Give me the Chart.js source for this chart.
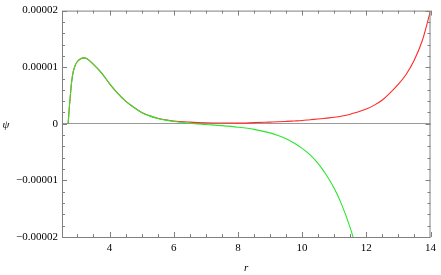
<!DOCTYPE html>
<html>
<head>
<meta charset="utf-8">
<script src="https://cdn.jsdelivr.net/npm/chart.js@4.4.0/dist/chart.umd.min.js"></script>
<style>
  html, body { margin: 0; padding: 0; background: #fff; }
  #wrap { width: 441px; height: 275px; position: relative; }
</style>
</head>
<body>
<div id="wrap"><canvas id="psiChart"></canvas></div>
<script>
// r grid and the two solutions (values in units of 1e-6)
const rValues = [2.71, 2.73, 2.75, 2.78, 2.82, 2.87, 2.93, 3.0, 3.1, 3.2, 3.3, 3.5, 3.75, 4.0, 4.25, 4.5, 4.75, 5.0, 5.25, 5.5, 5.75, 6.0, 6.5, 7.0, 7.5, 8.0, 8.5, 9.0, 9.25, 9.5, 9.75, 10.0, 10.25, 10.5, 10.75, 11.0, 11.25, 11.5, 11.65, 12.0, 12.25, 12.5, 12.75, 13.0, 13.25, 13.5, 13.75, 14.0];
const greenPsi = [0, 1.5, 3.0, 5.0, 7.4, 9.2, 10.3, 11.0, 11.5, 11.65, 11.5, 10.5, 9.0, 7.1, 5.4, 4.0, 2.95, 2.0, 1.4, 0.95, 0.65, 0.4, 0.1, -0.12, -0.33, -0.6, -0.98, -1.6, -2.05, -2.65, -3.4, -4.35, -5.5, -7.05, -9.0, -11.4, -14.5, -18.4, -21.2, null, null, null, null, null, null, null, null, null];
const redPsi = [0, 1.5, 3.0, 5.0, 7.4, 9.2, 10.3, 11.0, 11.5, 11.65, 11.5, 10.5, 9.0, 7.1, 5.4, 4.0, 2.95, 2.0, 1.4, 0.97, 0.7, 0.5, 0.3, 0.18, 0.13, 0.12, 0.2, 0.3, 0.35, 0.42, 0.5, 0.58, 0.72, 0.85, 1.0, 1.15, 1.38, 1.7, 1.95, 2.6, 3.3, 4.2, 5.5, 7.0, 8.8, 11.3, 14.8, 20.0];

const xTickValues = [4, 6, 8, 10, 12, 14];
const yTickValues = [-0.00002, -0.00001, 0, 0.00001, 0.00002];
const yTickLabels = ['\u22120.00002', '\u22120.00001', '0', '0.00001', '0.00002'];

const FONT = "'Liberation Serif', 'DejaVu Serif', serif";

function toPoints(ys) {
    return rValues.map((r, i) => ({ x: r, y: ys[i] === null ? null : ys[i] * 1e-6 }));
}

const framePlugin = {
    id: 'frame',
    afterDatasetsDraw(chart) {
        const { ctx, chartArea: a, scales } = chart;
        const xs = scales.x, ys = scales.y;
        ctx.save();
        ctx.strokeStyle = '#808080';
        ctx.lineWidth = 1;
        ctx.strokeRect(a.left + 0.5, a.top + 0.5, a.right - a.left - 1, a.bottom - a.top);

        ctx.beginPath();
        // x ticks, bottom and top
        for (let v = 3; v <= 14.001; v += 0.5) {
            const major = xTickValues.some(t => Math.abs(t - v) < 1e-6);
            const len = major ? 5 : 3;
            const px = Math.round(xs.getPixelForValue(v)) + 0.5;
            ctx.moveTo(px, a.bottom); ctx.lineTo(px, a.bottom - len);
            ctx.moveTo(px, a.top); ctx.lineTo(px, a.top + len);
        }
        // y ticks, left and right
        for (let k = -10; k <= 10; k++) {
            const v = k * 2e-6;
            const major = k % 5 === 0;
            const len = major ? 5 : 3;
            const py = Math.round(ys.getPixelForValue(v)) + 0.5;
            ctx.moveTo(a.left, py); ctx.lineTo(a.left + len, py);
            ctx.moveTo(a.right, py); ctx.lineTo(a.right - len, py);
        }
        ctx.stroke();

        // axis labels
        ctx.fillStyle = '#000';
        ctx.font = 'italic 11px ' + FONT;
        ctx.textAlign = 'center';
        ctx.textBaseline = 'middle';
        ctx.fillText('r', (a.left + a.right) / 2, 268);
        ctx.fillText('\u03c8', 6, ys.getPixelForValue(0) + 1);
        ctx.restore();
    }
};

new Chart(document.getElementById('psiChart'), {
    type: 'line',
    data: {
        datasets: [{
            label: 'green',
            data: toPoints(greenPsi),
            borderColor: '#2ee62e',
            borderWidth: 1.1,
            pointRadius: 0,
            cubicInterpolationMode: 'monotone',
            spanGaps: false,
            fill: false
        }, {
            label: 'red',
            data: toPoints(redPsi),
            borderColor: '#ff2a2a',
            borderWidth: 1.1,
            pointRadius: 0,
            cubicInterpolationMode: 'monotone',
            fill: false
        }]
    },
    options: {
        responsive: true,
        maintainAspectRatio: false,
        animation: false,
        layout: { padding: { left: 0, right: 7, top: 8, bottom: 0 } },
        plugins: { legend: { display: false }, tooltip: { enabled: false } },
        scales: {
            x: {
                type: 'linear',
                min: 2.52,
                max: 14,
                afterBuildTicks: s => { s.ticks = xTickValues.map(v => ({ value: v })); },
                afterFit: s => { s.height = 38; },
                grid: { display: false, drawTicks: false },
                border: { display: false },
                ticks: { color: '#000', padding: 5, font: { family: FONT, size: 11 }, callback: v => String(v) }
            },
            y: {
                min: -0.00002,
                max: 0.00002,
                afterBuildTicks: s => { s.ticks = yTickValues.map(v => ({ value: v })); },
                afterFit: s => { s.width = 62; },
                grid: {
                    drawTicks: false,
                    color: ctx => (ctx.tick && ctx.tick.value === 0 ? '#999999' : 'rgba(0,0,0,0)'),
                    lineWidth: 1
                },
                border: { display: false },
                ticks: {
                    color: '#000',
                    padding: 4,
                    font: { family: FONT, size: 11 },
                    callback: (v) => yTickLabels[yTickValues.indexOf(v)] ?? ''
                }
            }
        }
    },
    plugins: [framePlugin]
});
</script>
</body>
</html>
